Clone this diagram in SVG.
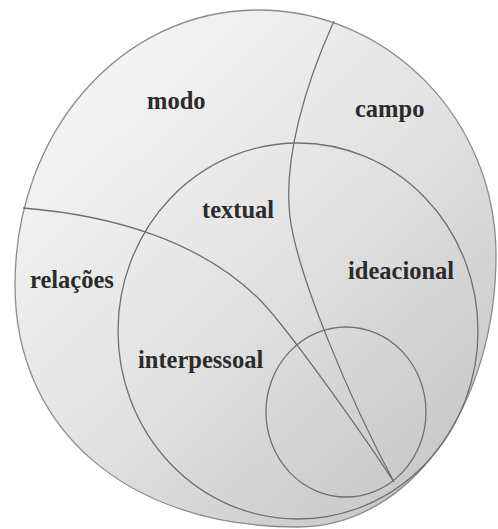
<svg xmlns="http://www.w3.org/2000/svg" width="498" height="529" viewBox="0 0 498 529">
  <style>
    .line { fill: none; stroke: #707070; stroke-width: 1.3; }
    .lbl { font-family: "Liberation Serif", "Times New Roman", serif; font-weight: bold; font-size: 24.5px; fill: #2b2b2b; }
  </style>
  <defs>
    <linearGradient id="shade" x1="0.1" y1="0.05" x2="0.9" y2="0.95">
      <stop offset="0" stop-color="#f7f7f7"/>
      <stop offset="0.5" stop-color="#e3e3e3"/>
      <stop offset="1" stop-color="#c6c6c6"/>
    </linearGradient>
  </defs>
  <rect width="498" height="529" fill="#ffffff"/>

  <g id="outer">
    <path d="M496,255 C496,407 409,527 298,527 C128,527 15,430 15,285 C15,131 122,10 258,10 C389,10 496,120 496,255 Z" fill="url(#shade)" stroke="#8c8c8c" stroke-width="1.3"/>
  </g>

  <g id="middle">
    <ellipse class="line" cx="298" cy="331" rx="180" ry="188"/>
  </g>

  <g id="small">
    <ellipse class="line" cx="346" cy="412" rx="80" ry="85"/>
  </g>

  <g id="connectors">
    <path class="line" d="M334,21 C305,85 283,160 290,217 C297,274 350,400 394,482"/>
    <path class="line" d="M23,208 C110,215 200,240 260,300 C285,325 360,430 394,482"/>
  </g>

  <g id="label-modo"><text class="lbl" x="147" y="109">modo</text></g>
  <g id="label-campo"><text class="lbl" x="355" y="117">campo</text></g>
  <g id="label-textual"><text class="lbl" x="202" y="218">textual</text></g>
  <g id="label-relacoes"><text class="lbl" x="30" y="288">relações</text></g>
  <g id="label-ideacional"><text class="lbl" x="348" y="279">ideacional</text></g>
  <g id="label-interpessoal"><text class="lbl" x="138" y="368">interpessoal</text></g>
</svg>
